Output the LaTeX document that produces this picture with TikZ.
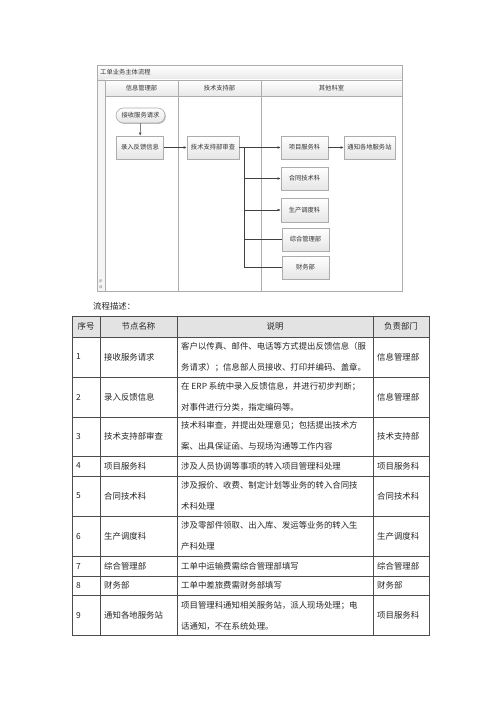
\documentclass[tikz,border=0pt]{standalone}
\usepackage{fontspec}
\setmainfont{Noto Sans CJK SC}
\usetikzlibrary{arrows.meta,shadows}
\newcommand\flowfont{\fontsize{6.3}{7.5}\selectfont}
\newcommand\tabfont{\fontsize{8.4}{10}\selectfont}
\newcommand\tinyfont{\fontsize{3.2}{3.6}\selectfont}
\tikzset{
  framel/.style={draw=gray!65, line width=0.9pt},
  fbox/.style={draw=gray!65, line width=0.6pt, top color=white, bottom color=gray!20,
    minimum width=47pt, minimum height=23pt, inner sep=0pt, font=\flowfont, text=black!80,
    drop shadow={shadow xshift=0.9pt, shadow yshift=-0.9pt, opacity=0.25, fill=black}},
  fstart/.style={fbox, rounded corners=7.5pt, minimum width=49pt, minimum height=15pt},
  conn/.style={draw=black!75, line width=0.5pt},
  arr/.style={conn, -{Latex[length=3pt,width=2.6pt]}},
  hdr/.style={font=\flowfont, text=black!80, inner sep=0pt},
  tline/.style={draw=black!70, line width=0.7pt},
  tt/.style={font=\tabfont, text=black!85, inner sep=0pt},
  tl/.style={tt, anchor=west},
}
\begin{document}
\begin{tikzpicture}[x=1pt,y=-1pt]
\useasboundingbox (0,0) rectangle (500,708);
\fill[white] (0,0) rectangle (500,708);

% ---------- flowchart frame ----------
\shade[top color=white, bottom color=gray!18] (97,65) rectangle (402,80);
\shade[top color=white, bottom color=gray!18] (105,80) rectangle (402,96);
\fill[gray!8] (97,80) rectangle (105,291);
\draw[framel] (97,65) rectangle (402,291);
\draw[framel] (97,80) -- (402,80);
\draw[framel] (105,96) -- (402,96);
\draw[framel] (105,80) -- (105,291);
\draw[framel] (178,80) -- (178,291);
\draw[framel] (261,80) -- (261,291);

\node[hdr, anchor=west] (title) at (100,72.5) {工单业务主体流程};
\node[hdr] (lane1) at (141.5,88) {信息管理部};
\node[hdr] (lane2) at (219.5,88) {技术支持部};
\node[hdr] (lane3) at (331.5,88) {其他科室};
\node[font=\tinyfont, text=black!60, inner sep=0pt, align=center] (phase) at (101,284) {\shortstack{阶\\段}};

% ---------- flowchart nodes ----------
\node[fstart] (n1) at (140.5,115.5) {接收服务请求};
\node[fbox] (n2) at (140,147.5) {录入反馈信息};
\node[fbox, minimum width=52pt] (n3) at (213,147.5) {技术支持部审查};
\node[fbox] (n4) at (304.5,147.5) {项目服务科};
\node[fbox, minimum width=51pt] (n5) at (369.5,147.5) {通知各地服务站};
\node[fbox] (n6) at (304.5,178.5) {合同技术科};
\node[fbox, minimum height=24pt] (n7) at (304.5,210) {生产调度科};
\node[fbox] (n8) at (305.5,239.5) {综合管理部};
\node[fbox] (n9) at (305.5,267.5) {财务部};

\coordinate (br) at (244,147.5);
\draw[arr] (n1) -- (n2);
\draw[arr] (n2) -- (n3);
\draw[arr] (n3) -- (n4);
\draw[arr] (n4) -- (n5);
\draw[arr] (br) |- (n6.west);
\draw[arr] (br) |- (n7.west);
\draw[conn] (br) |- (n8.west);
\draw[conn] (br) |- (n9.west);

% ---------- description ----------
\node[tl] (desc) at (93,306) {流程描述：};

\fill[gray!22] (72,316) rectangle (429,337);
\draw[tline] (72,316) rectangle (429,635);
\foreach \yy in {337,377,417,456,476,516,556,576,595}
  \draw[tline] (72,\yy) -- (429,\yy);
\foreach \xx in {100,177,373}
  \draw[tline] (\xx,316) -- (\xx,635);

\node[tt] (h0) at (86,326.5) {序号};
\node[tt] (h1) at (138.5,326.5) {节点名称};
\node[tt] (h2) at (275,326.5) {说明};
\node[tt] (h3) at (401,326.5) {负责部门};

% row 1
\node[tl] (a1) at (76,357) {1};
\node[tl] (b1) at (104,357) {接收服务请求};
\node[tl] (c1a) at (181,346.5) {客户以传真、邮件、电话等方式提出反馈信息（服};
\node[tl] (c1b) at (181,367.5) {务请求）；信息部人员接收、打印并编码、盖章。};
\node[tl] (d1) at (377,357) {信息管理部};
% row 2
\node[tl] (a2) at (76,397) {2};
\node[tl] (b2) at (104,397) {录入反馈信息};
\node[tl] (c2a) at (181,386.5) {在 ERP 系统中录入反馈信息，并进行初步判断；};
\node[tl] (c2b) at (181,407) {对事件进行分类，指定编码等。};
\node[tl] (d2) at (377,397) {信息管理部};
% row 3
\node[tl] (a3) at (76,436.5) {3};
\node[tl] (b3) at (104,436.5) {技术支持部审查};
\node[tl] (c3a) at (181,425.5) {技术科审查，并提出处理意见；包括提出技术方};
\node[tl] (c3b) at (181,446.5) {案、出具保证函、与现场沟通等工作内容};
\node[tl] (d3) at (377,436.5) {技术支持部};
% row 4
\node[tl] (a4) at (76,466) {4};
\node[tl] (b4) at (104,466) {项目服务科};
\node[tl] (c4) at (181,466) {涉及人员协调等事项的转入项目管理科处理};
\node[tl] (d4) at (377,466) {项目服务科};
% row 5
\node[tl] (a5) at (76,496) {5};
\node[tl] (b5) at (104,496) {合同技术科};
\node[tl] (c5a) at (181,485) {涉及报价、收费、制定计划等业务的转入合同技};
\node[tl] (c5b) at (181,506) {术科处理};
\node[tl] (d5) at (377,496) {合同技术科};
% row 6
\node[tl] (a6) at (76,536) {6};
\node[tl] (b6) at (104,536) {生产调度科};
\node[tl] (c6a) at (181,525) {涉及零部件领取、出入库、发运等业务的转入生};
\node[tl] (c6b) at (181,546) {产科处理};
\node[tl] (d6) at (377,536) {生产调度科};
% row 7
\node[tl] (a7) at (76,566) {7};
\node[tl] (b7) at (104,566) {综合管理部};
\node[tl] (c7) at (181,566) {工单中运输费需综合管理部填写};
\node[tl] (d7) at (377,566) {综合管理部};
% row 8
\node[tl] (a8) at (76,585.5) {8};
\node[tl] (b8) at (104,585.5) {财务部};
\node[tl] (c8) at (181,585.5) {工单中差旅费需财务部填写};
\node[tl] (d8) at (377,585.5) {财务部};
% row 9
\node[tl] (a9) at (76,615.5) {9};
\node[tl] (b9) at (104,615.5) {通知各地服务站};
\node[tl] (c9a) at (181,605.5) {项目管理科通知相关服务站，派人现场处理；电};
\node[tl] (c9b) at (181,626.5) {话通知，不在系统处理。};
\node[tl] (d9) at (377,615.5) {项目服务科};
\end{tikzpicture}
\end{document}
